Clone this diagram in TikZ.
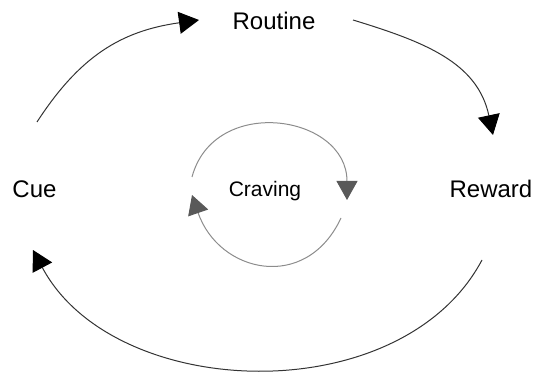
\documentclass[tikz,border=0pt]{standalone}
\usepackage{fontspec}
\setmainfont{Liberation Sans}
\usetikzlibrary{arrows.meta}
\definecolor{outerline}{HTML}{333333}
\definecolor{innerline}{HTML}{8C8C8C}
\definecolor{innertip}{HTML}{595959}
\tikzset{
  stage/.style={anchor=base, inner sep=0pt, font=\fontsize{24}{28}\selectfont},
  loopline/.style={line width=1pt, draw=outerline,
    -{Triangle[length=20pt,width=22pt,color=black]}},
  innerloop/.style={line width=1pt, draw=innerline,
    -{Triangle[length=19pt,width=21pt,color=innertip]}}
}
\begin{document}
\begin{tikzpicture}[x=1pt,y=1pt]
      \useasboundingbox (0,0) rectangle (536,374);

      %%% the four labels %%%
      \node (routine) at (274,344) [stage] {Routine};
      \node (cue) at (34.5,176) [stage] {Cue};
      \node (reward) at (491,176) [stage] {Reward};
      \node (craving) at (265,177) [stage, font=\fontsize{21}{25}\selectfont] {Craving};

      %%% outer loop %%%
      \coordinate (cueOut) at (37,252);
      \coordinate (routineIn) at (199,354);
      \coordinate (routineOut) at (353,354);
      \coordinate (rewardIn) at (493,239);
      \coordinate (rewardOut) at (482,114);
      \coordinate (cueIn) at (33,124);

      \draw[loopline] (cueOut) to [out=57,in=188,looseness=1.05] (routineIn);
      \draw[loopline] (routineOut) to [out=-17,in=102,looseness=1.05] (rewardIn);
      \draw[loopline] (rewardOut) to [out=-118,in=-62,looseness=0.98] (cueIn);

      % inner loop
      \coordinate (topL) at (192,197);
      \coordinate (topR) at (347,174);
      \coordinate (botR) at (341,156);
      \coordinate (botL) at (192,179);

      \draw[innerloop] (topL) to [out=75,in=90,looseness=1.4] (topR);
      \draw[innerloop] (botR) to [out=-115,in=-71,looseness=1.4] (botL);

    \end{tikzpicture}
\end{document}
